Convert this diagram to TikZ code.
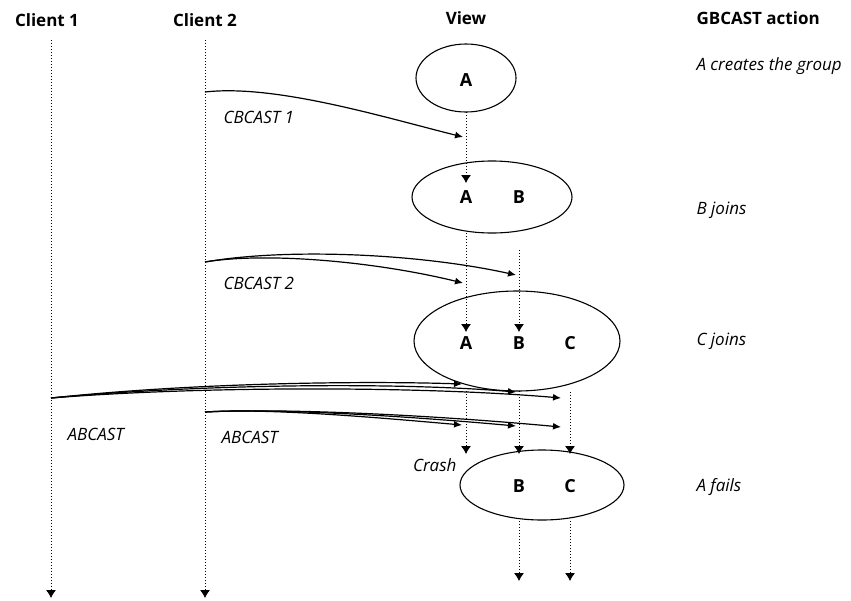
\documentclass[tikz,border=0pt]{standalone}
\usepackage{fontspec}
\setmainfont{Open Sans}
\usetikzlibrary{positioning}
\usetikzlibrary{shapes.geometric}
\usetikzlibrary{arrows.meta}
\tikzstyle{view} = [draw, ellipse, line width=1.1pt, inner sep=0pt]
\tikzstyle{member} = [font=\bfseries\fontsize{18}{21}\selectfont]
\tikzstyle{head} = [font=\bfseries\fontsize{17}{20}\selectfont]
\tikzstyle{note} = [font=\itshape\fontsize{17}{20}\selectfont]
\tikzstyle{life} = [line width=0.9pt, dash pattern=on 0.9pt off 2.1pt, -{Latex[length=8pt,width=10pt]}]
\tikzstyle{msg} = [line width=1.2pt, -{Latex[length=8pt,width=7pt]}]
\tikzstyle{coord} = [coordinate]

\begin{document}
\begin{tikzpicture}[x=1pt,y=-1pt]
    \useasboundingbox (0,0) rectangle (851,600);
    % headings
    \node [head] (client1) at (47,20) {Client 1};
    \node [head] (client2) at (205,20) {Client 2};
    \node [head] (view) at (466,18) {View};
    \node [head,anchor=west] (action) at (693,18) {GBCAST action};

    % views
    \node [view, minimum width=100, minimum height=68] (v1) at (466,78) {};
    \node [view, minimum width=160, minimum height=72] (v2) at (492,197) {};
    \node [view, minimum width=206, minimum height=100] (v3) at (517,341) {};
    \node [view, minimum width=164, minimum height=70] (v4) at (542,485) {};
    \node [member] (a1) at (466,80) {A};
    \node [member] (a2) at (466,197) {A};
    \node [member] (b2) at (519,197) {B};
    \node [member] (a3) at (466,343) {A};
    \node [member] (b3) at (519,343) {B};
    \node [member] (c3) at (570,343) {C};
    \node [member] (b4) at (519,486) {B};
    \node [member] (c4) at (570,486) {C};

    \node [note,anchor=west] (create) at (693,66) {A creates the group};
    \node [note,anchor=west] (bjoin) at (693,210) {B joins};
    \node [note,anchor=west] (cjoin) at (693,341) {C joins};
    \node [note,anchor=west] (afail) at (693,487) {A fails};
    \node [note,anchor=west] (cb1) at (220,117) {CBCAST 1};
    \node [note,anchor=west] (cb2) at (220,283) {CBCAST 2};
    \node [note,anchor=west] (ab1) at (64,434) {ABCAST};
    \node [note,anchor=west] (ab2) at (218,437) {ABCAST};
    \node [note,anchor=east] (crash) at (460,465) {Crash};

    % client lines
    \node [coord] (c1top) at (51,40) {};
    \node [coord] (c1end) at (51,598) {};
    \node [coord] (c2top) at (205,40) {};
    \node [coord] (c2end) at (205,598) {};
    \draw [life] (c1top) -- (c1end);
    \draw [life] (c2top) -- (c2end);

    % member lines
    \node [coord] (pa1) at (466,112) {};
    \node [coord] (qa1) at (466,183) {};
    \node [coord] (pa2) at (466,233) {};
    \node [coord] (qa2) at (466,332) {};
    \node [coord] (pb2) at (519,250) {};
    \node [coord] (qb2) at (519,332) {};
    \node [coord] (pa3) at (466,391) {};
    \node [coord] (qa3) at (466,454) {};
    \node [coord] (pb3) at (519,391) {};
    \node [coord] (qb3) at (519,454) {};
    \node [coord] (pc3) at (570,392) {};
    \node [coord] (qc3) at (570,454) {};
    \node [coord] (pb4) at (519,521) {};
    \node [coord] (qb4) at (519,581) {};
    \node [coord] (pc4) at (570,521) {};
    \node [coord] (qc4) at (570,581) {};
    \draw [life] (pa1) -- (qa1);
    \draw [life] (pa2) -- (qa2);
    \draw [life] (pb2) -- (qb2);
    \draw [life] (pa3) -- (qa3);
    \draw [life] (pb3) -- (qb3);
    \draw [life] (pc3) -- (qc3);
    \draw [life] (pb4) -- (qb4);
    \draw [life] (pc4) -- (qc4);

    % messages
    \node [coord] (s1) at (205,92) {};
    \node [coord] (t1) at (463,137) {};
    \draw [msg] (s1) .. controls +(70,-8) and +(-80,-20) .. (t1);

    \node [coord] (s2) at (205,262) {};
    \node [coord] (t2a) at (463,283) {};
    \node [coord] (t2b) at (516,275) {};
    \draw [msg] (s2) .. controls +(60,-10) and +(-90,-22) .. (t2a);
    \draw [msg] (s2) .. controls +(80,-14) and +(-100,-22) .. (t2b);

    \node [coord] (s3) at (51,398) {};
    \node [coord] (t3a) at (462,384) {};
    \node [coord] (t3b) at (516,392) {};
    \node [coord] (t3c) at (561,398) {};
    \draw [msg] (s3) .. controls +(150,-16) and +(-90,-3) .. (t3a);
    \draw [msg] (s3) .. controls +(150,-14) and +(-120,-10) .. (t3b);
    \draw [msg] (s3) .. controls +(150,-12) and +(-140,-12) .. (t3c);

    \node [coord] (s4) at (205,412) {};
    \node [coord] (t4a) at (462,425) {};
    \node [coord] (t4b) at (516,426) {};
    \node [coord] (t4c) at (561,427) {};
    \draw [msg] (s4) .. controls +(60,-4) and +(-90,-8) .. (t4a);
    \draw [msg] (s4) .. controls +(70,-4) and +(-110,-10) .. (t4b);
    \draw [msg] (s4) .. controls +(80,-4) and +(-130,-12) .. (t4c);
\end{tikzpicture}
\end{document}
